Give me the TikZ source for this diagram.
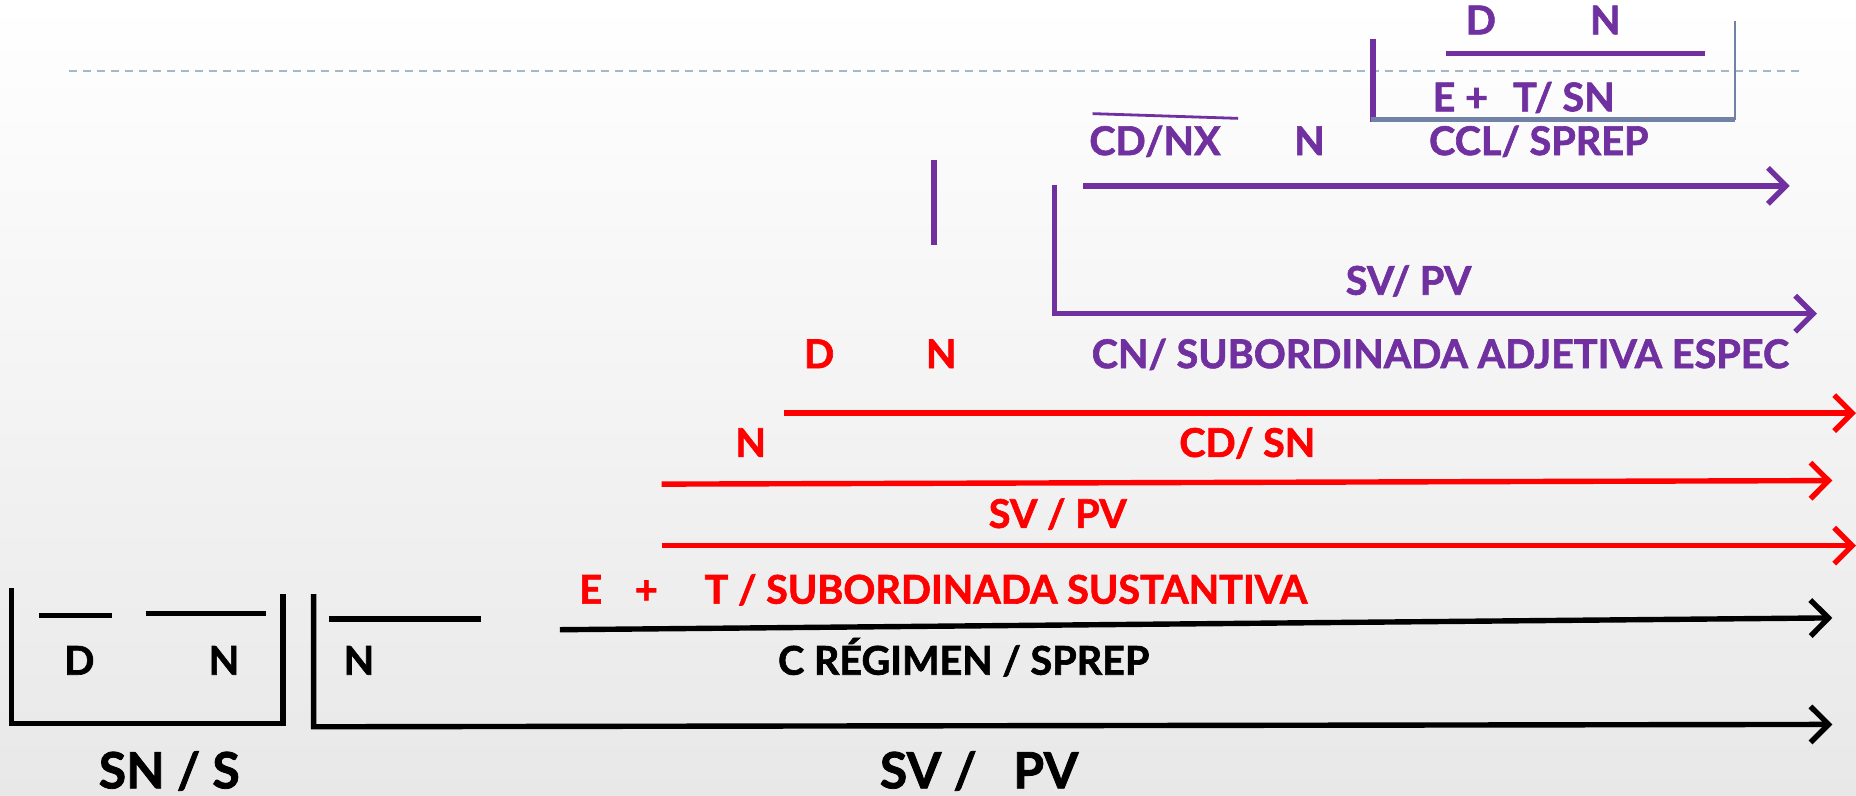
\documentclass[tikz,border=0pt]{standalone}
\usepackage{fontspec}
\setmainfont{Lato}[BoldFeatures={FakeBold=1.6}]
\usetikzlibrary{arrows.meta}
\definecolor{purp}{HTML}{7030A0}
\definecolor{boxblue}{HTML}{7282A6}
\definecolor{dashc}{HTML}{A3B8CC}
\definecolor{redc}{HTML}{FF0000}
\begin{document}
\begin{tikzpicture}[x=0.5918pt,y=-0.5918pt,
  lbl/.style={inner sep=0pt,anchor=base west,font=\bfseries\fontsize{19.8}{22}\selectfont},
  lblc/.style={lbl,anchor=base},
  big/.style={inner sep=0pt,anchor=base,font=\bfseries\fontsize{25}{30}\selectfont},
  ln/.style={line width=2.6pt},
  thinln/.style={line width=1.2pt},
  arr/.style={line width=2.7pt,-{Straight Barb[length=9pt,width=18pt]}},
]
\shade[top color=white,bottom color=black!9] (0,0) rectangle (1568,672);
\useasboundingbox (0,0) rectangle (1568,672);

% dashed guide
\coordinate (g1) at (58,60); \coordinate (g2) at (1520,60);
\draw[dashc,line width=0.8pt,dash pattern=on 4pt off 3pt] (g1) -- (g2);

% ---------- purple top box ----------
\node[lbl,purp] (pD) at (1238,29) {D};
\node[lbl,purp] (pN) at (1343,29) {N};
\coordinate (pl1) at (1222,45); \coordinate (pl2) at (1440,45);
\draw[ln,purp] (pl1) -- (pl2);
\node[lbl,purp] (pE) at (1210,94) {E +};
\node[lbl,purp] (pT) at (1278,94) {T/ SN};
\coordinate (b1) at (1160,33); \coordinate (b2) at (1160,103);
\coordinate (b3) at (1466,101); \coordinate (b4) at (1466,18);
\draw[ln,purp] (b1) -- (b2);
\draw[ln,boxblue] (1158,101) -- (b3);
\draw[thinln,boxblue] (b3) -- (b4);

% ---------- purple middle ----------
\coordinate (s1) at (923,96); \coordinate (s2) at (1046,100);
\draw[purp,line width=1.4pt] (s1) -- (s2);
\node[lbl,purp] (cdnx) at (920,131) {CD/NX};
\node[lbl,purp] (pN2) at (1093,131) {N};
\node[lbl,purp] (ccl) at (1207,131) {CCL/ SPREP};
\coordinate (v1) at (789,135); \coordinate (v2) at (789,207);
\draw[ln,purp] (v1) -- (v2);
\coordinate (a1s) at (915,157); \coordinate (a1e) at (1512,157);
\draw[arr,purp] (a1s) -- (a1e);
\coordinate (k1) at (891,156); \coordinate (k2) at (891,265); \coordinate (k3) at (1535,265);
\draw[arr,purp] (k1) -- (k2) -- (k3);
\node[lblc,purp] (svpv1) at (1190,249) {SV/ PV};
\node[lbl,purp] (cn) at (922,311) {CN/ SUBORDINADA ADJETIVA ESPEC};

% ---------- red ----------
\node[lbl,redc] (rD) at (679,311) {D};
\node[lbl,redc] (rN) at (782,311) {N};
\coordinate (r1s) at (662,349); \coordinate (r1e) at (1568,349);
\draw[arr,redc] (r1s) -- (r1e);
\node[lbl,redc] (rN2) at (621,386) {N};
\node[lbl,redc] (cdsn) at (996,386) {CD/ SN};
\coordinate (r2s) at (559,409); \coordinate (r2e) at (1548,406);
\draw[arr,redc] (r2s) -- (r2e);
\node[lbl,redc] (svpv2) at (835,446) {SV / PV};
\coordinate (r3s) at (559,461); \coordinate (r3e) at (1568,461);
\draw[arr,redc] (r3s) -- (r3e);
\node[lbl,redc] (rE) at (489,510) {E};
\node[lbl,redc] (rP) at (536,510) {+};
\node[lbl,redc] (rT) at (595,510) {T / SUBORDINADA SUSTANTIVA};

% ---------- black ----------
\coordinate (k4s) at (473,532); \coordinate (k4e) at (1548,522);
\draw[arr,black] (k4s) -- (k4e);
\node[lbl] (creg) at (657,570) {C RÉGIMEN / SPREP};
\coordinate (l1a) at (33,520); \coordinate (l1b) at (95,520);
\coordinate (l2a) at (123,518); \coordinate (l2b) at (225,518);
\coordinate (l3a) at (278,523); \coordinate (l3b) at (406,523);
\draw[ln] (l1a) -- (l1b);
\draw[ln] (l2a) -- (l2b);
\draw[ln] (l3a) -- (l3b);
\node[lbl] (bD) at (54,570) {D};
\node[lbl] (bN) at (176,570) {N};
\node[lbl] (bN2) at (290,570) {N};
\coordinate (x1) at (10,497); \coordinate (x2) at (10,611);
\coordinate (x3) at (239,611); \coordinate (x4) at (239,502);
\draw[ln] (x1) -- (x2) -- (x3) -- (x4);
\coordinate (y1) at (265,502); \coordinate (y2) at (265,614); \coordinate (y3) at (1548,612);
\draw[arr,black] (y1) -- (y2) -- (y3);
\node[big] (sns) at (143,666) {SN / S};
\node[big,anchor=base west] (svpv3) at (743,666) {SV /\ \ \ PV};
\end{tikzpicture}
\end{document}
